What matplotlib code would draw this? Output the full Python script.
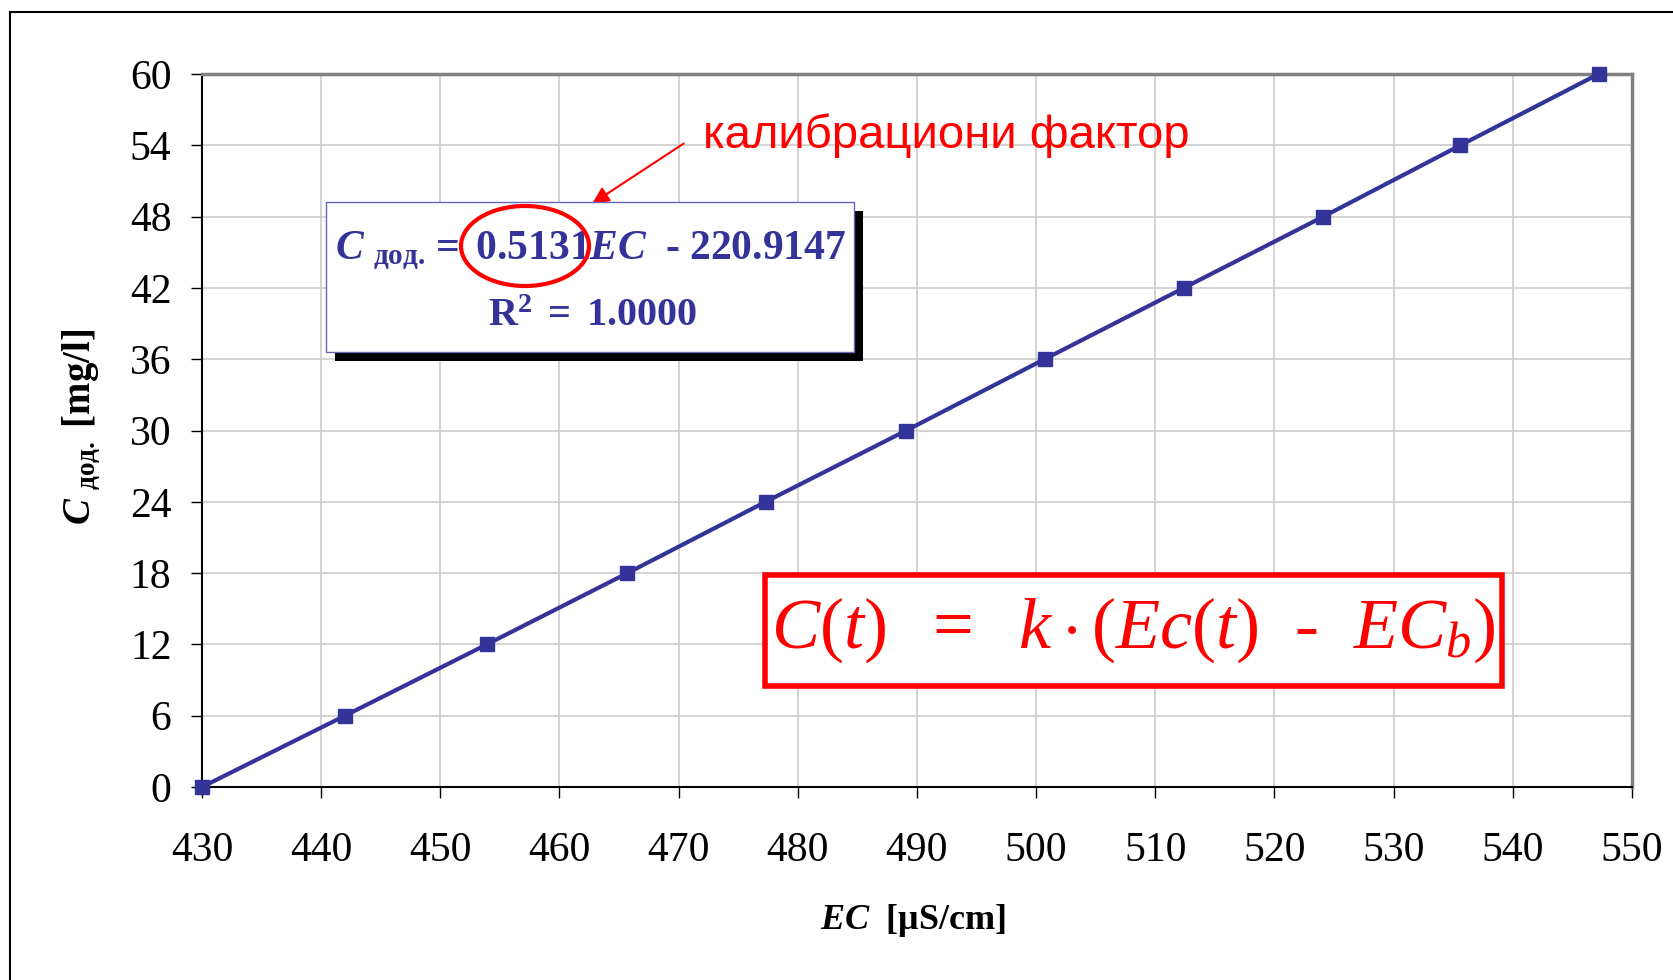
import numpy as np
import matplotlib.pyplot as plt
from matplotlib.patches import Rectangle, Ellipse
from matplotlib.lines import Line2D

# calibration points
ec_values = [430.0, 442.0, 453.9, 465.7, 477.3, 489.1, 500.7, 512.4, 524.1, 535.6, 547.2]
c_values = [0, 6, 12, 18, 24, 30, 36, 42, 48, 54, 60]
x_ticks = list(range(430, 551, 10))
y_ticks = list(range(0, 61, 6))

eq_line1 = r'$\mathbfit{C}\ _{\mathbf{дод.}}\mathbf{=\ 0.5131}\mathbfit{EC}\mathbf{\ \ ‐\ 220.9147}$'
eq_line2 = r'$\mathbf{R^2\ =\ 1.0000}$'
note_text = 'калибрациони фактор'
model_text = r'$C(t)\ \ =\ \ k\cdot(Ec(t)\ \ \text{-}\ \ EC_b)$'

plt.rcParams['font.family'] = ['Liberation Serif', 'DejaVu Serif']
plt.rcParams['mathtext.fontset'] = 'custom'
plt.rcParams['mathtext.rm'] = 'Liberation Serif'
plt.rcParams['mathtext.it'] = 'Liberation Serif:italic'
plt.rcParams['mathtext.bf'] = 'Liberation Serif:bold'
plt.rcParams['mathtext.bfit'] = 'Liberation Serif:italic:bold'

W, H = 1674, 980
def fx(px):
    return px / W
def fy(py):
    return 1 - py / H

fig = plt.figure(figsize=(W / 100, H / 100), dpi=100)
ax = fig.add_axes([fx(202), fy(787), (1632 - 202) / W, (787 - 74) / H])

blue = '#333399'
ax.plot(ec_values, c_values, color=blue, lw=3, marker='s', markersize=10,
        clip_on=False, zorder=5)

ax.set_xlim(430, 550)
ax.set_ylim(0, 60)
ax.set_xticks(x_ticks)
ax.set_yticks(y_ticks)
ax.tick_params(labelsize=30, length=8, width=1, direction='out')
ax.tick_params(axis='x', pad=24)
ax.tick_params(axis='y', pad=14)
ax.grid(True, color='#cccccc', lw=1.2)
ax.set_axisbelow(True)
for s in ['left', 'bottom']:
    ax.spines[s].set_color('black')
    ax.spines[s].set_linewidth(1.5)
for s in ['top', 'right']:
    ax.spines[s].set_color('#808080')
    ax.spines[s].set_linewidth(2.5)

# axis labels
fig.text(fx(913), fy(920), r'$\mathbfit{EC}\ \ \mathbf{[\mu S/cm]}$', fontsize=26,
         ha='center', va='center')
fig.text(fx(82), fy(427), r'$\mathbfit{C}\ _{\mathbf{дод.}}\ \mathbf{[mg/l]}$', fontsize=28,
         ha='center', va='center', rotation=90)

# outer chart frame
fig.add_artist(Line2D([fx(10), 1], [fy(12), fy(12)], transform=fig.transFigure, color='k', lw=1.5))
fig.add_artist(Line2D([fx(10), fx(10)], [fy(12), 0], transform=fig.transFigure, color='k', lw=1.5))

# regression equation box with shadow
fig.add_artist(Rectangle((fx(335), fy(361)), (854 - 326) / W, (352 - 202) / H,
                         transform=fig.transFigure, facecolor='black', edgecolor='none', zorder=6))
fig.add_artist(Rectangle((fx(326), fy(352)), (854 - 326) / W, (352 - 202) / H,
                         transform=fig.transFigure, facecolor='white', edgecolor='#6666bb',
                         lw=1, zorder=7))
fig.text(fx(335), fy(251), eq_line1, fontsize=30, color=blue, ha='left', va='center', zorder=8)
fig.text(fx(593), fy(317), eq_line2, fontsize=29, color=blue, ha='center', va='center', zorder=8)
fig.add_artist(Ellipse((fx(525), fy(246)), 128 / W, 80 / H, transform=fig.transFigure,
                       facecolor='none', edgecolor='red', lw=3, zorder=9))

# annotation arrow and note
ax.annotate('', xy=(fx(590), fy(205)), xytext=(fx(686), fy(142)),
            xycoords='figure fraction', textcoords='figure fraction',
            arrowprops=dict(arrowstyle='-|>', color='red', lw=1.5, mutation_scale=25), zorder=9)
fig.text(fx(703), fy(136), note_text, fontsize=34, color='red', family='Liberation Sans',
         ha='left', va='center')

# model formula box
fig.add_artist(Rectangle((fx(765), fy(686)), (1502 - 765) / W, (686 - 575) / H,
                         transform=fig.transFigure, facecolor='white', edgecolor='red',
                         lw=4, zorder=7))
fig.text(fx(1133), fy(630), model_text, fontsize=52, color='red', ha='center', va='center', zorder=8)

fig.savefig('out.png', dpi=100)
